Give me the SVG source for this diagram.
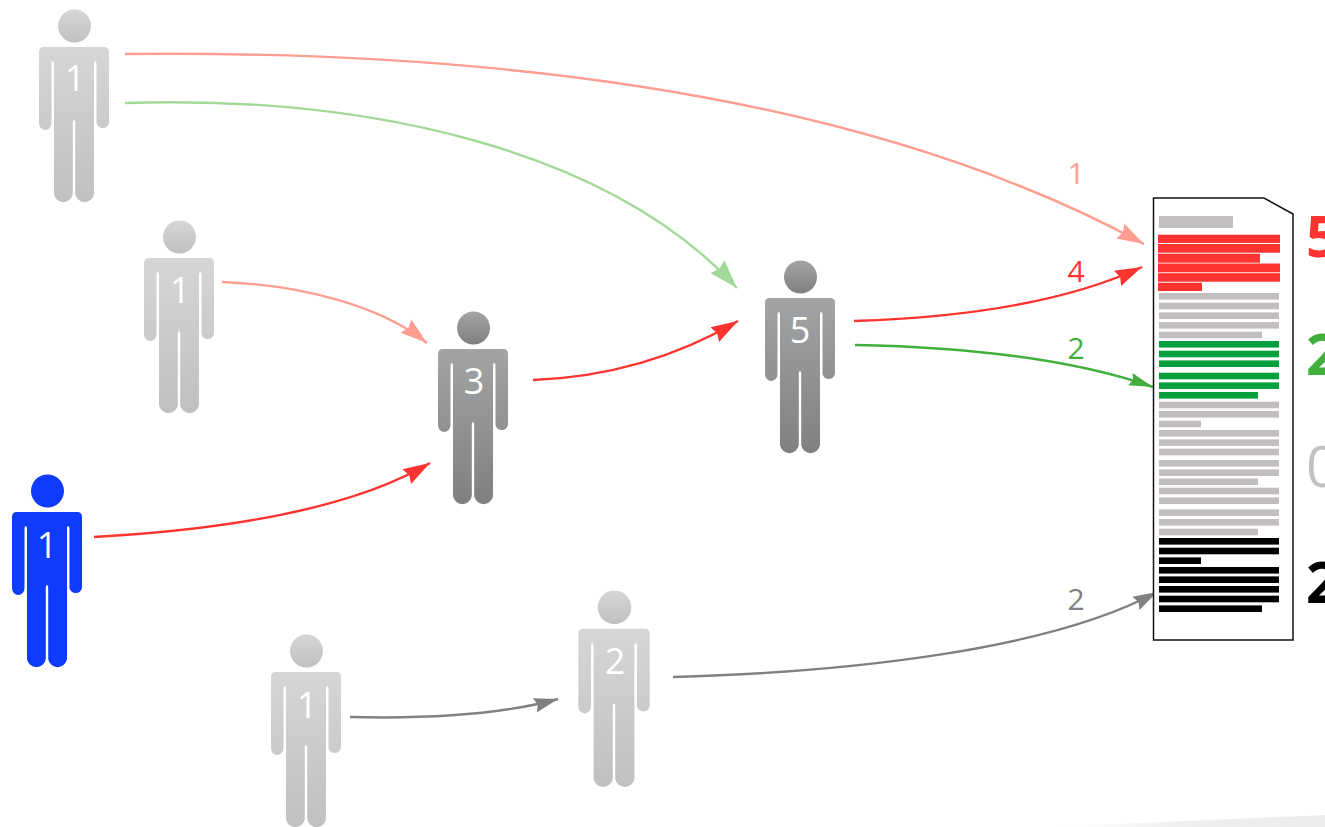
<svg xmlns="http://www.w3.org/2000/svg" xmlns:xlink="http://www.w3.org/1999/xlink" width="1325" height="827" viewBox="0 0 1325 827">
<style>
.n{font-family:"Open Sans","Noto Sans",sans-serif;font-size:36px;fill:#fff;text-anchor:middle}
.l{font-family:"Open Sans","Noto Sans",sans-serif;font-size:30px;text-anchor:middle}
.b{font-family:"Open Sans","Noto Sans",sans-serif;font-size:57px;font-weight:700}
.c{fill:none;stroke-width:2.4}
.g{fill:#c2bebe}.r{fill:#ff3430}.v{fill:#04a03c}.k{fill:#000}
</style>
<defs>
<linearGradient id="lt" x1="0" y1="0" x2="0" y2="1"><stop offset="0" stop-color="#d6d6d6"/><stop offset="1" stop-color="#c0c0c0"/></linearGradient>
<linearGradient id="dk" x1="0" y1="0" x2="0" y2="1"><stop offset="0" stop-color="#a2a4a5"/><stop offset="1" stop-color="#808080"/></linearGradient>
<linearGradient id="sh" x1="0" y1="0" x2="1" y2="0"><stop offset="0" stop-color="#fff"/><stop offset=".5" stop-color="#efefef"/><stop offset="1" stop-color="#ececec"/></linearGradient>
<g id="p"><circle cx="0.5" cy="16" r="16.5"/><path d="M-30,37H30Q35,37 35,42V113A6.5,7 0 0 1 22.5,113V54Q22.5,51 21.2,51Q20,51 20,54V184A9.5,9.5 0 0 1 1.2,184V113Q1.2,110 0,110Q-1.2,110 -1.2,113V184A9.5,9.5 0 0 1 -20,184V54Q-20,51 -21.2,51Q-22.5,51 -22.5,54V113A6.25,7 0 0 1 -35,113V42Q-35,37 -30,37Z"/></g>
<marker id="ap" markerUnits="userSpaceOnUse" markerWidth="30" markerHeight="22" refX="27" refY="11" orient="auto"><path d="M27,11L0,2.5L3,11L0,19.5Z" fill="#ff9e90"/></marker>
<marker id="ar" markerUnits="userSpaceOnUse" markerWidth="30" markerHeight="22" refX="27" refY="11" orient="auto"><path d="M27,11L0,2.5L3,11L0,19.5Z" fill="#ff3430"/></marker>
<marker id="agl" markerUnits="userSpaceOnUse" markerWidth="30" markerHeight="22" refX="29" refY="11" orient="auto"><path d="M29,11L0,1.5L3,11L0,20.5Z" fill="#a3d998"/></marker>
<marker id="ag" markerUnits="userSpaceOnUse" markerWidth="30" markerHeight="22" refX="26" refY="11" orient="auto"><path d="M26,11L2,4.5L5,11L2,17.5Z" fill="#42ae3c"/></marker>
<marker id="ak" markerUnits="userSpaceOnUse" markerWidth="30" markerHeight="22" refX="26" refY="11" orient="auto"><path d="M26,11L2,3.5L5,11L2,18.5Z" fill="#808080"/></marker>
</defs>
<path id="shadow" d="M1050,827L1325,815V827Z" fill="url(#sh)"/>
<g id="connectors">
<path class="c" stroke="#ff9e90" marker-end="url(#ap)" d="M125,54C500,50 870,95 1144,244"/>
<path class="c" stroke="#a3d998" marker-end="url(#agl)" d="M125,103C370,95 610,150 737,288"/>
<path class="c" stroke="#ff9e90" marker-end="url(#ap)" d="M222,282C300,285 380,305 427,343"/>
<path class="c" stroke="#ff3430" marker-end="url(#ar)" d="M533,380C610,377 680,355 738,321"/>
<path class="c" stroke="#ff3430" marker-end="url(#ar)" d="M94,537C220,530 350,510 430,463"/>
<path class="c" stroke="#ff3430" marker-end="url(#ar)" d="M854,321C950,318 1060,305 1142,267"/>
<path class="c" stroke="#42ae3c" marker-end="url(#ag)" d="M855,345C960,347 1070,358 1153,387"/>
<path class="c" stroke="#808080" marker-end="url(#ak)" d="M350,717C430,719 500,715 558,699"/>
<path class="c" stroke="#808080" marker-end="url(#ak)" d="M673,677C850,672 1050,650 1157,592"/>
</g>
<g id="p1" fill="url(#lt)"><use href="#p" x="74" y="10"/><text class="n" x="75" y="91">1</text></g>
<g id="p2" fill="url(#lt)"><use href="#p" x="179" y="221"/><text class="n" x="180" y="303">1</text></g>
<g id="p3" fill="url(#dk)"><use href="#p" x="473" y="312"/><text class="n" x="474" y="394">3</text></g>
<g id="p4" fill="url(#dk)"><use href="#p" x="800" y="261"/><text class="n" x="800" y="343">5</text></g>
<g id="p5" fill="#0f3bff"><use href="#p" x="47" y="475"/><text class="n" x="47" y="558">1</text></g>
<g id="p6" fill="url(#lt)"><use href="#p" x="306" y="635"/><text class="n" x="307" y="718">1</text></g>
<g id="p7" fill="url(#lt)"><use href="#p" transform="translate(614 591) scale(1.02)"/><text class="n" x="615" y="674">2</text></g>
<g id="labels">
<text class="l" x="1076" y="184" fill="#ff9e90">1</text>
<text class="l" x="1076" y="282" fill="#ff3430">4</text>
<text class="l" x="1076" y="359" fill="#42ae3c">2</text>
<text class="l" x="1076" y="610" fill="#808080">2</text>
</g>
<g id="document">
<path d="M1153.5,198H1264L1293,214V640H1153.5Z" fill="#fff" stroke="#111" stroke-width="1.5"/>
<rect class="g" x="1159" y="216" width="74" height="12"/>
<g class="r">
<rect x="1158" y="234.7" width="122" height="8.3"/><rect x="1158" y="244" width="122" height="8.7"/><rect x="1158" y="253.7" width="102" height="9"/><rect x="1158" y="263.5" width="122" height="8.8"/><rect x="1158" y="273.2" width="122" height="8.5"/><rect x="1158" y="282.7" width="44" height="8.3"/>
</g>
<g class="g">
<rect x="1159" y="293" width="120" height="6.6"/><rect x="1159" y="302.7" width="120" height="6.6"/><rect x="1159" y="312.4" width="120" height="6.6"/><rect x="1159" y="322" width="120" height="6.6"/><rect x="1159" y="331.7" width="103" height="6.6"/>
</g>
<g class="v">
<rect x="1159" y="341" width="120" height="6.6"/><rect x="1159" y="350.7" width="120" height="6.6"/><rect x="1159" y="360.4" width="120" height="6.6"/><rect x="1159" y="372.7" width="120" height="6.6"/><rect x="1159" y="382.4" width="120" height="6.6"/><rect x="1159" y="392" width="99" height="6.6"/>
</g>
<g class="g">
<rect x="1159" y="401.7" width="120" height="6.6"/><rect x="1159" y="411" width="120" height="6.6"/><rect x="1159" y="420.7" width="42" height="6.6"/><rect x="1159" y="430" width="120" height="6.6"/><rect x="1159" y="439.4" width="120" height="6.6"/><rect x="1159" y="448.7" width="120" height="6.6"/><rect x="1159" y="460" width="120" height="6.6"/><rect x="1159" y="469.4" width="120" height="6.6"/><rect x="1159" y="478.4" width="99" height="6.6"/><rect x="1159" y="487.7" width="120" height="6.6"/><rect x="1159" y="497.4" width="120" height="6.6"/><rect x="1159" y="509.4" width="120" height="6.6"/><rect x="1159" y="519" width="120" height="6.6"/><rect x="1159" y="528.7" width="99" height="6.6"/>
</g>
<g class="k">
<rect x="1159" y="538" width="120" height="6.6"/><rect x="1159" y="547.7" width="120" height="6.6"/><rect x="1159" y="557.4" width="42" height="6.6"/><rect x="1159" y="567" width="120" height="6.6"/><rect x="1159" y="576.4" width="120" height="6.6"/><rect x="1159" y="586" width="120" height="6.6"/><rect x="1159" y="595.7" width="120" height="6.6"/><rect x="1159" y="605.4" width="103" height="6.6"/>
</g>
</g>
<g id="counts">
<text class="b" x="1306" y="257" fill="#ff3430">5</text>
<text class="b" x="1306" y="375" fill="#42ae3c">2</text>
<text class="b" x="1306" y="487" fill="#c4c0c0" style="font-weight:400">0</text>
<text class="b" x="1306" y="603" fill="#000">2</text>
</g>
</svg>
